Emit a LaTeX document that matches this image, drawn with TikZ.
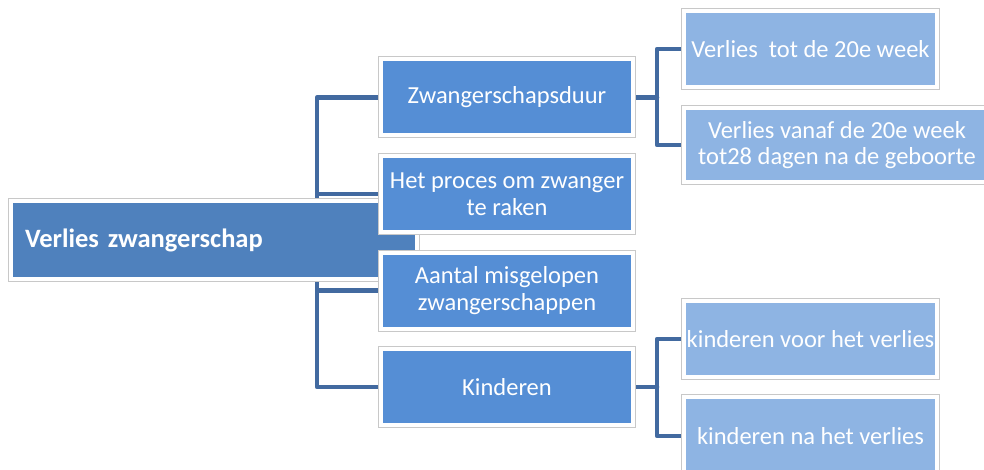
\documentclass[tikz,border=0pt]{standalone}
\usepackage{fontspec}
\setmainfont{Carlito}
\definecolor{rootblue}{RGB}{79,129,189}
\definecolor{midblue}{RGB}{85,142,213}
\definecolor{lightblue}{RGB}{142,180,227}
\definecolor{connblue}{RGB}{66,106,160}
\definecolor{edgegrey}{RGB}{200,200,200}
\pgfdeclarelayer{bglayer}
\pgfdeclarelayer{midlayer}
\pgfsetlayers{bglayer,midlayer,main}
\tikzset{
  boxbase/.style={rectangle, inner sep=0pt, draw=white, line width=4pt,
    preaction={draw=edgegrey, line width=6pt}, text=white, align=center},
  rootbox/.style={boxbase, fill=rootblue, minimum height=78pt, inner xsep=14pt,
    text width=378pt, align=left, font=\fontsize{26.5}{30}\selectfont\bfseries},
  lvlone/.style={boxbase, fill=midblue, minimum width=252pt, minimum height=76pt,
    font=\fontsize{24.5}{26.5}\selectfont},
  lvltwo/.style={boxbase, fill=lightblue, minimum width=253pt, minimum height=76pt,
    font=\fontsize{24.5}{26.5}\selectfont},
  conn/.style={draw=connblue, line width=4.5pt, line join=round, line cap=round}
}
\begin{document}
\begin{tikzpicture}[x=1pt,y=-1pt]
\clip (0,0) rectangle (984,470);
\begin{pgfonlayer}{bglayer}
\fill[white] (0,0) rectangle (984,470);
\end{pgfonlayer}
% trunk coordinates
\coordinate (tL) at (317,240);
\coordinate (tR1) at (657,97.5);
\coordinate (tR2) at (657,387);
% level 1
\node[lvlone] (zw) at (507,97.5) {Zwangerschapsduur};
\node[lvlone] (pr) at (507,194) {Het proces om zwanger\\te raken};
\node[lvlone] (aa) at (507,290.5) {Aantal misgelopen\\zwangerschappen};
\node[lvlone] (ki) at (507,387) {Kinderen};
% level 2
\node[lvltwo] (v1) at (810.5,49) {Verlies\ \ tot de 20e week};
\node[lvltwo, minimum width=306pt, minimum height=74pt] (v2) at (837,145) {Verlies vanaf de 20e week\\tot28 dagen na de geboorte};
\node[lvltwo] (k1) at (810.5,339) {kinderen voor het verlies};
\node[lvltwo, minimum height=78pt] (k2) at (810.5,436) {kinderen na het verlies};
% root above connectors, below level-1 boxes
\begin{pgfonlayer}{midlayer}
\node[rootbox] (root) at (214,240) {Verlies zwangerschap};
\end{pgfonlayer}
% connectors behind everything
\begin{pgfonlayer}{bglayer}
\draw[conn] (zw.west) -| (tL);
\draw[conn] (pr.west) -| (tL);
\draw[conn] (aa.west) -| (tL);
\draw[conn] (ki.west) -| (tL);
\draw[conn] (zw.east) -- (tR1);
\draw[conn] (v1.west) -| (tR1);
\draw[conn] (v2.west) -| (tR1);
\draw[conn] (ki.east) -- (tR2);
\draw[conn] (k1.west) -| (tR2);
\draw[conn] (k2.west) -| (tR2);
\end{pgfonlayer}
\end{tikzpicture}
\end{document}
